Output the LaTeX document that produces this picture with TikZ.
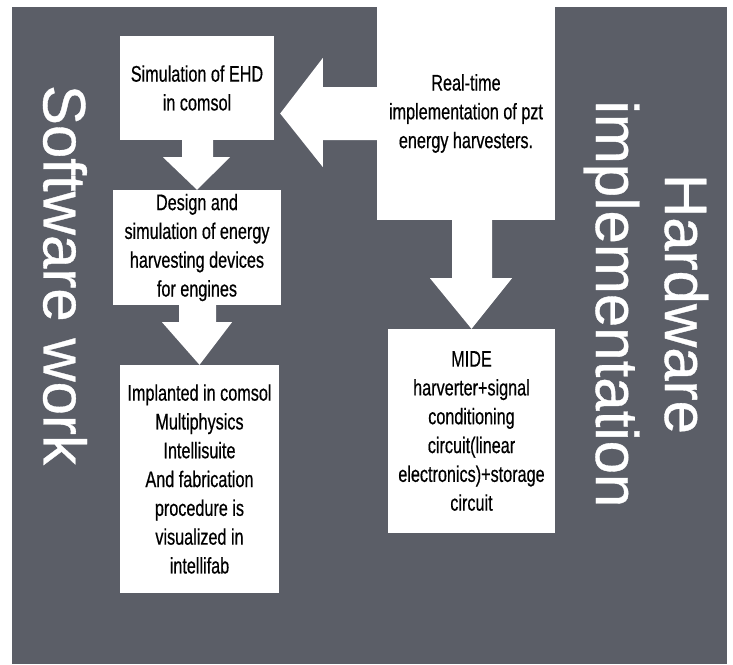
\documentclass[tikz,border=0pt]{standalone}
\usepackage{fontspec}
\setmainfont{Liberation Sans}
\newfontfamily\boxfont[FakeStretch=0.72,FakeBold=0.5]{Liberation Sans}
\newfontfamily\sidefont[FakeBold=0.6]{Liberation Sans}
\usetikzlibrary{calc}
\definecolor{bggray}{RGB}{91,94,103}
\begin{document}
\begin{tikzpicture}[x=1pt,y=-1pt,
  box/.style={fill=white, inner sep=0pt, align=center, text=black,
    font=\boxfont\fontsize{22.5}{28.8}\selectfont},
  blockarrow/.style={fill=white},
  side/.style={text=white, rotate=-90, align=center, inner sep=0pt,
    font=\sidefont\fontsize{60}{69}\selectfont}]
\useasboundingbox (0,0) rectangle (733,664);
\fill[white] (0,0) rectangle (733,664);
\fill[bggray] (12,7) rectangle (727,664);

\node[box, minimum width=154pt, minimum height=104pt] (ehd) at (197,88)
  {Simulation of EHD\\in comsol};
\node[box, minimum width=178pt, minimum height=213pt] (rt) at (466,113.5)
  {Real-time\\implementation of pzt\\energy harvesters.};
\node[box, minimum width=168pt, minimum height=115pt] (design) at (197,247.5)
  {Design and\\simulation of energy\\harvesting devices\\for engines};
\node[box, minimum width=159pt, minimum height=228pt] (impl) at (199.5,479)
  {Implanted in comsol\\Multiphysics\\Intellisuite\\And fabrication\\procedure is\\visualized in\\intellifab};
\node[box, minimum width=167pt, minimum height=204pt] (mide) at (471.5,431)
  {MIDE\\harverter+signal\\conditioning\\circuit(linear\\electronics)+storage\\circuit};

\node[side] (sw) at (65,275) {Software work};
\node[side] (hw) at (646,304) {Hardware\\implementation};

% rt -> ehd (leftward)
\coordinate (tipA) at ($(ehd.east |- rt.west)+(6,0)$);
\fill[blockarrow] ($(rt.west)+(0,-26.5)$) -- ($(rt.west)+(-54,-26.5)$)
  -- ($(rt.west)+(-54,-55.5)$) -- (tipA) -- ($(rt.west)+(-54,53.5)$)
  -- ($(rt.west)+(-54,26.5)$) -- ($(rt.west)+(0,26.5)$) -- cycle;
% ehd -> design
\fill[blockarrow] ($(ehd.south)+(-15,0)$) -- ($(ehd.south)+(16,0)$)
  -- ($(ehd.south)+(16,17)$) -- ($(ehd.south)+(33,17)$) -- (design.north)
  -- ($(ehd.south)+(-34,17)$) -- ($(ehd.south)+(-15,17)$) -- cycle;
% design -> impl
\fill[blockarrow] ($(design.south)+(-18,0)$) -- ($(design.south)+(19,0)$)
  -- ($(design.south)+(19,17)$) -- ($(design.south)+(35,17)$) -- (impl.north)
  -- ($(design.south)+(-35,17)$) -- ($(design.south)+(-18,17)$) -- cycle;
% rt -> mide
\fill[blockarrow] ($(rt.south)+(-14,0)$) -- ($(rt.south)+(26,0)$)
  -- ($(rt.south)+(26,58)$) -- ($(rt.south)+(46,58)$) -- (mide.north)
  -- ($(rt.south)+(-36,58)$) -- ($(rt.south)+(-14,58)$) -- cycle;
\end{tikzpicture}
\end{document}
